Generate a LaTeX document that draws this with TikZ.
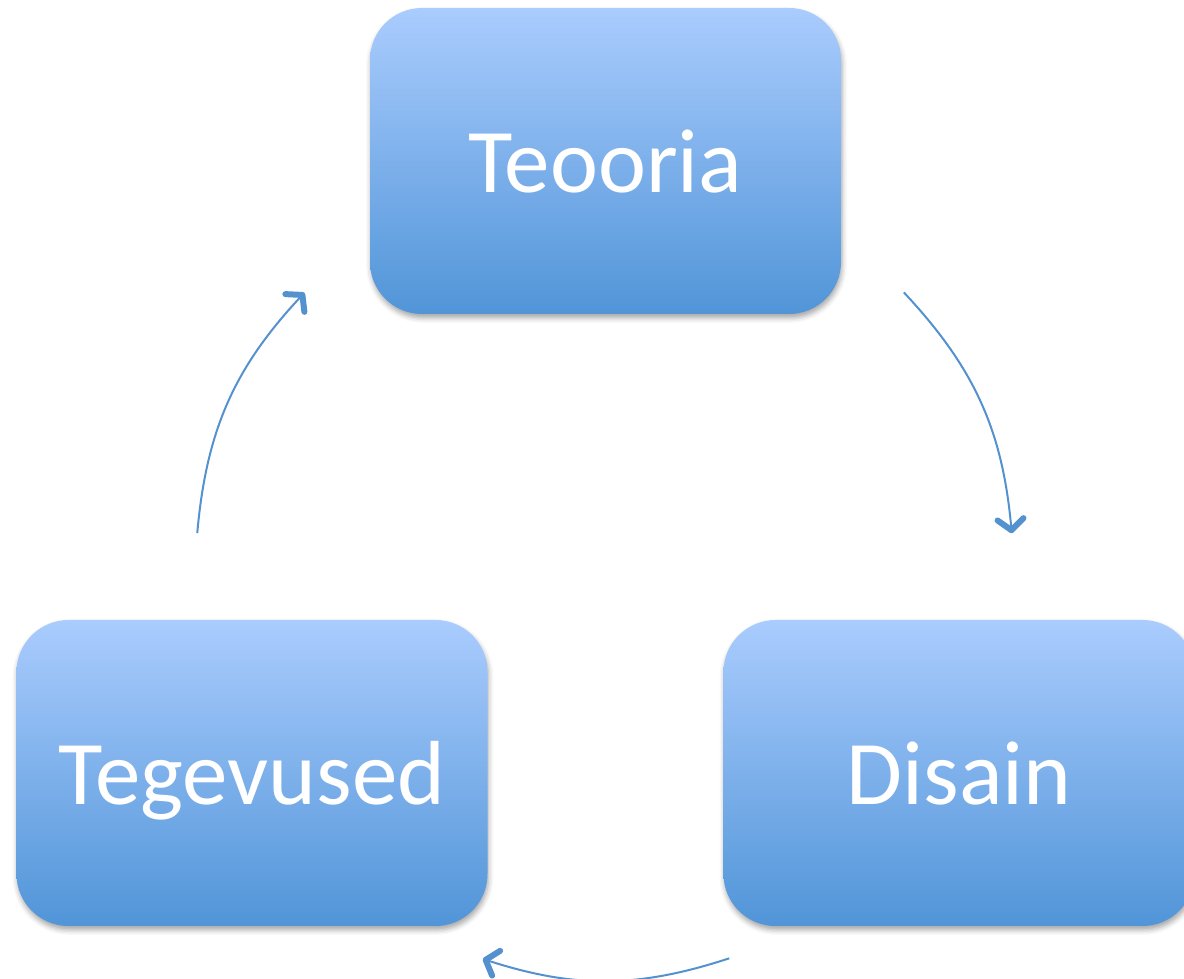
\documentclass[tikz,border=0pt]{standalone}
\usepackage{fontspec}
\setmainfont{Carlito}
\usetikzlibrary{arrows.meta, shadows.blur, calc}
\definecolor{boxtop}{RGB}{170,204,254}
\definecolor{boxbot}{RGB}{81,149,216}
\definecolor{cycle}{RGB}{84,145,207}

\begin{document}
\begin{tikzpicture}[
      x=1pt, y=1pt,
      phase/.style={rectangle, rounded corners=52pt, draw=none,
                  minimum width=471pt, minimum height=306pt,
                  text height=64pt, text depth=0pt,
                  top color=boxtop, bottom color=boxbot, text=white,
                  font=\fontsize{91}{100}\selectfont,
                  blur shadow={shadow xshift=1pt, shadow yshift=-4pt,
                               shadow blur radius=5pt, shadow opacity=35}},
      cyc/.style={-{Straight Barb[length=11pt, width=26pt, line width=6pt, round]},
                  line width=2pt, draw=cycle}
    ]
    \useasboundingbox (0,0) rectangle (1184,979);
    \node[phase] (t) at (605.5,818) {Teooria};
    \node[phase] (d) at (959,206) {Disain};
    \node[phase] (g) at (252,206) {Tegevused};
    % ring of arrows round the middle
    \coordinate (m) at (605,403);
    \coordinate (t0) at ($(m)+(6:409)$);
    \coordinate (t1) at ($(m)+(43.5:412)$);
    \coordinate (d0) at ($(m)+(-72:402)$);
    \coordinate (d1) at ($(m)+(-107.7:402)$);
    \coordinate (g0) at ($(m)+(174:410)$);
    \coordinate (g1) at ($(m)+(136.7:413)$);
    \draw[cyc] (t1) to[bend left=19] (t0);
    \draw[cyc] (d0) to[bend left=18] (d1);
    \draw[cyc] (g0) to[bend left=19] (g1);
  \end{tikzpicture}
\end{document}
